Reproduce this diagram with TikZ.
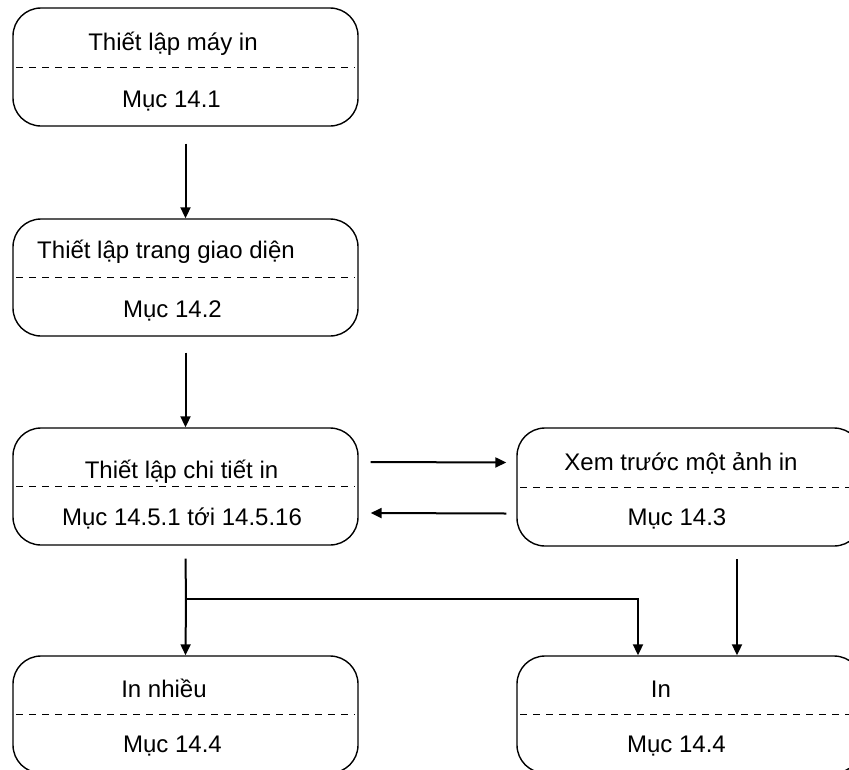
\documentclass[tikz,border=0pt]{standalone}
\usepackage{fontspec}
\setmainfont{Liberation Sans}
\usetikzlibrary{arrows.meta}
\begin{document}
\begin{tikzpicture}[x=1pt,y=-1pt,
  box/.style={draw, line width=1.4pt, rounded corners=28pt,
    minimum width=345pt, minimum height=117pt, inner sep=0pt},
  lbl/.style={inner sep=0pt, anchor=base, font=\fontsize{24}{28}\selectfont},
  sep/.style={line width=0.9pt, dash pattern=on 7pt off 6pt},
  arr/.style={line width=2pt, -{Triangle[length=11pt,width=10pt]}}]
\useasboundingbox (0,0) rectangle (849,769);
\begin{scope}
\clip (0,0) rectangle (849,769);

% process boxes
\node[box, minimum height=118pt] (b1) at (185.5,67) {};
\node[box] (b2) at (185.5,277.5) {};
\node[box] (b3) at (185.5,486.5) {};
\node[box, minimum height=118pt] (b4) at (689.5,487) {};
\node[box] (b5) at (185.5,714.5) {};
\node[box] (b6) at (689.5,714.5) {};

% dashed separators
\foreach \b in {b1,b2,b3,b4,b5,b6}
  \draw[sep] ([xshift=4pt]\b.west) -- ([xshift=-4pt]\b.east);

% titles and section references
\node[lbl] (t1a) at (173,50)  {Thiết lập máy in};
\node[lbl] (t1b) at (171.5,107) {Mục 14.1};
\node[lbl] (t2a) at (166,258) {Thiết lập trang giao diện};
\node[lbl] (t2b) at (172.5,317) {Mục 14.2};
\node[lbl] (t3a) at (181.5,478) {Thiết lập chi tiết in};
\node[lbl] (t3b) at (182,525) {Mục 14.5.1 tới 14.5.16};
\node[lbl] (t4a) at (681,470) {Xem trước một ảnh in};
\node[lbl] (t4b) at (677,525) {Mục 14.3};
\node[lbl] (t5a) at (164,697) {In nhiều};
\node[lbl] (t5b) at (172.5,752) {Mục 14.4};
\node[lbl] (t6a) at (661,697) {In};
\node[lbl] (t6b) at (676.5,752) {Mục 14.4};

% connectors
\draw[arr] ([yshift=-17pt]b1.south) -- (b2.north);
\draw[arr] ([yshift=-16pt]b2.south) -- (b3.north);
\draw[arr] ([xshift=12pt,yshift=24.5pt]b3.east) -- ([xshift=-10pt,yshift=24.5pt]b4.west);
\draw[arr] ([xshift=-10pt,yshift=-26.5pt]b4.west) -- ([xshift=12pt,yshift=-26.5pt]b3.east);
\coordinate (j0) at (186,599);
\coordinate (j1) at (638,599);
\coordinate (r0) at (737,559);
\draw[line width=2pt] ([yshift=-13pt]b3.south) -- (j0);
\draw[arr] (j0) -- (b5.north);
\draw[arr] (j0) -- (j1) -- (j1 |- b6.north);
\draw[arr] (r0) -- (r0 |- b6.north);
\end{scope}
\end{tikzpicture}
\end{document}
